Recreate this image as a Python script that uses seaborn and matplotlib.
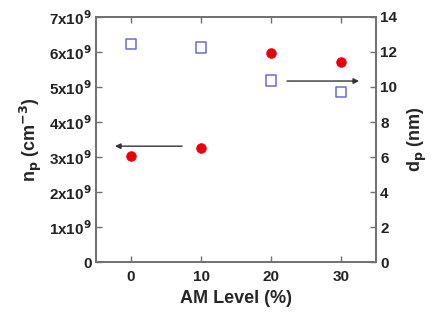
import pandas as pd
import seaborn as sns
import matplotlib.pyplot as plt

# Werte
am_level = [0, 10, 20, 30]
n_p = [3.03e9, 3.26e9, 5.97e9, 5.71e9]      # linke Achse (cm^-3)
d_p = [12.45, 12.25, 10.36, 9.71]           # rechte Achse (nm)

df = pd.DataFrame({'am': am_level, 'n_p': n_p, 'd_p': d_p})

sns.set_style('ticks')
plt.rcParams['font.family'] = ['Liberation Sans', 'DejaVu Sans']
plt.rcParams['font.weight'] = 'bold'

fig = plt.figure(figsize=(4.35, 3.2), dpi=100)
ax = fig.add_axes([0.221, 0.181, 0.643, 0.766])
ax2 = ax.twinx()

sns.scatterplot(data=df, x='am', y='n_p', ax=ax, color='#e8000b', s=48,
                edgecolor='#e8000b', marker='o', zorder=3)
sns.scatterplot(data=df, x='am', y='d_p', ax=ax2, facecolor='none',
                edgecolor='#6a6ad8', marker='s', s=58, linewidth=1.1, zorder=3)

ax.set_xlim(-5, 35)
ax.set_ylim(0, 7e9)
ax2.set_ylim(0, 14)
ax.set_xticks([0, 10, 20, 30])
ax.set_yticks([i * 1e9 for i in range(8)])
ax.set_yticklabels(['0'] + [f'{i}x10$^\\mathbf{{9}}$' for i in range(1, 8)])
ax2.set_yticks(range(0, 15, 2))

ax.set_xlabel('AM Level (%)', fontsize=13, fontweight='bold')
ax.set_ylabel('n$_\\mathbf{p}$ (cm$^\\mathbf{-3}$)', fontsize=13, fontweight='bold', labelpad=4)
ax2.set_ylabel('d$_\\mathbf{p}$ (nm)', fontsize=13, fontweight='bold', labelpad=6, rotation=90)

for a in (ax, ax2):
    for sp in a.spines.values():
        sp.set_color('#707070')
        sp.set_linewidth(1.2)
    a.tick_params(direction='in', length=4, width=1, color='#707070',
                  labelsize=11, labelcolor='#222222')
ax.tick_params(axis='x', top=True, pad=6)
ax.tick_params(axis='y', pad=3)
ax2.tick_params(axis='y', pad=3)

# Pfeile zu den Achsen
ax.annotate('', xy=(-2.7, 3.31e9), xytext=(7.7, 3.31e9),
            arrowprops=dict(arrowstyle='-|>', color='#333333', lw=1, mutation_scale=8))
ax2.annotate('', xy=(33, 10.34), xytext=(21.9, 10.34),
             arrowprops=dict(arrowstyle='-|>', color='#333333', lw=1, mutation_scale=8))

plt.savefig('out.png', dpi=100)
